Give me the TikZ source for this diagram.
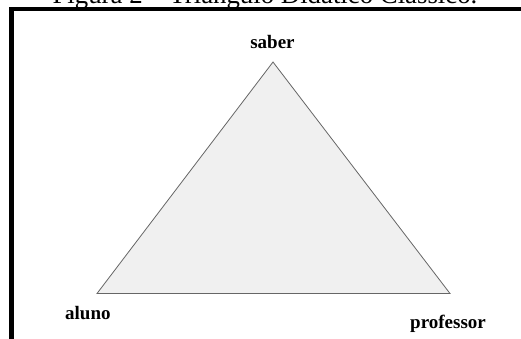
\documentclass[tikz,border=0pt]{standalone}
\usepackage{fontspec}
\setmainfont{Liberation Serif}
\begin{document}
\begin{tikzpicture}[x=1pt,y=-1pt,
  lbl/.style={inner sep=0pt,font=\fontsize{19}{22}\selectfont\bfseries},
  frameline/.style={line width=4.5pt,black,line join=miter},
  tri/.style={draw=black!60,fill=black!6,line width=0.8pt,line join=miter}]
\useasboundingbox (0,0) rectangle (521,338);
% clipped caption
\node[inner sep=0pt,anchor=base,font=\fontsize{26.8}{30}\selectfont] (cap) at (265,3.5) {Figura 2 – Triângulo Didático Clássico.};
% frame
\coordinate (fb) at (11.5,345);
\coordinate (fc) at (11.5,9);
\coordinate (fr) at (530,9);
\draw[frameline] (fb) -- (fc) -- (fr);
% triangle
\coordinate (top) at (273,62);
\coordinate (left) at (97,293.5);
\coordinate (right) at (450,293.5);
\draw[tri] (top) -- (left) -- (right) -- cycle;
% labels
\node[lbl,anchor=base] (saber) at (272.5,48.5) {saber};
\node[lbl,anchor=base west] (aluno) at (65,319) {aluno};
\node[lbl,anchor=base west] (prof) at (410,328) {professor};
\end{tikzpicture}
\end{document}
